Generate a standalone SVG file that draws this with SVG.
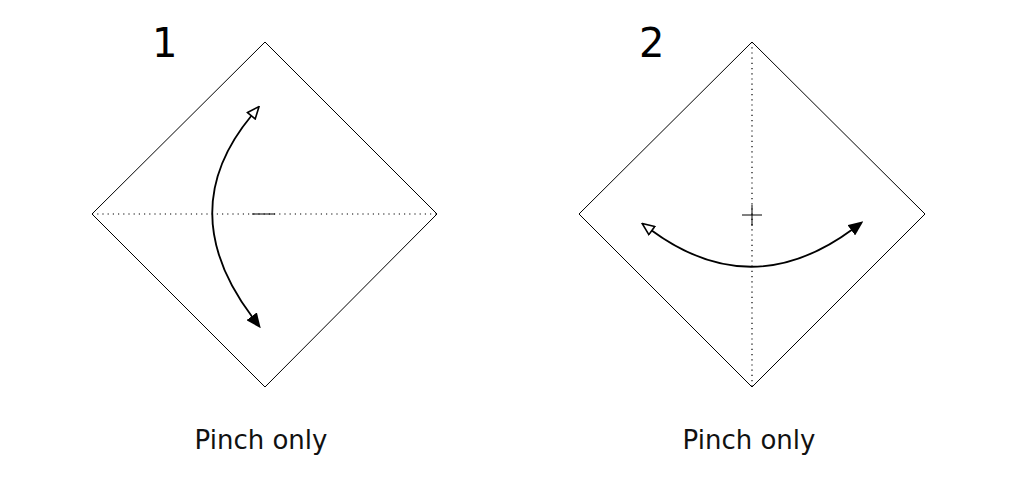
<svg xmlns="http://www.w3.org/2000/svg" width="1017" height="491" viewBox="0 0 1017 491">
<style>
.sq{fill:#fff;stroke:#000;stroke-width:1}
.dot{stroke:#000;stroke-width:1.2;stroke-dasharray:1.2 4;fill:none}
.pinch{stroke:#000;stroke-width:1;fill:none}
.arr{stroke:#000;stroke-width:1.8;fill:none}
.num{font-family:"DejaVu Sans",Verdana,sans-serif;font-size:40px;fill:#000}
.lbl{font-family:"DejaVu Sans",Verdana,sans-serif;font-size:26px;fill:#111}
</style>
<defs>
<marker id="open" viewBox="0 0 14 12" refX="2" refY="6" markerWidth="14" markerHeight="12" markerUnits="userSpaceOnUse" orient="auto-start-reverse">
<path d="M1,1 L13,6 L1,11 Z" fill="#fff" stroke="#000" stroke-width="1.6"/>
</marker>
<marker id="fill" viewBox="0 0 14 12" refX="2" refY="6" markerWidth="15" markerHeight="13" markerUnits="userSpaceOnUse" orient="auto">
<path d="M0,0 L14,6 L0,12 Z" fill="#000"/>
</marker>
</defs>
<rect width="1017" height="491" fill="#fff"/>
<g id="step1">
<polygon class="sq" points="265,42 437,214 265,387 92,214"/>
<line class="dot" x1="92" y1="214" x2="437" y2="214"/>
<line class="pinch" x1="252" y1="214" x2="275" y2="214" stroke-width="1.5"/>
<text class="num" x="152" y="57">1</text>
<text class="lbl" x="261" y="449" text-anchor="middle">Pinch only</text>
</g>
<g id="step2">
<polygon class="sq" points="752,42 925,214 752,387 579,214"/>
<line class="dot" x1="752" y1="42" x2="752" y2="387"/>
<line class="pinch" x1="742" y1="215" x2="762" y2="215"/>
<line class="pinch" x1="752" y1="205" x2="752" y2="226" stroke-width="1.5"/>
<text class="num" x="639" y="57">2</text>
<text class="lbl" x="749" y="449" text-anchor="middle">Pinch only</text>
</g>
<g id="connectors">
<path class="arr" d="M252,115 Q172,211 253,318" marker-start="url(#open)" marker-end="url(#fill)"/>
<path class="arr" d="M651,230 Q751.5,304 853,229" marker-start="url(#open)" marker-end="url(#fill)"/>
</g>
</svg>
